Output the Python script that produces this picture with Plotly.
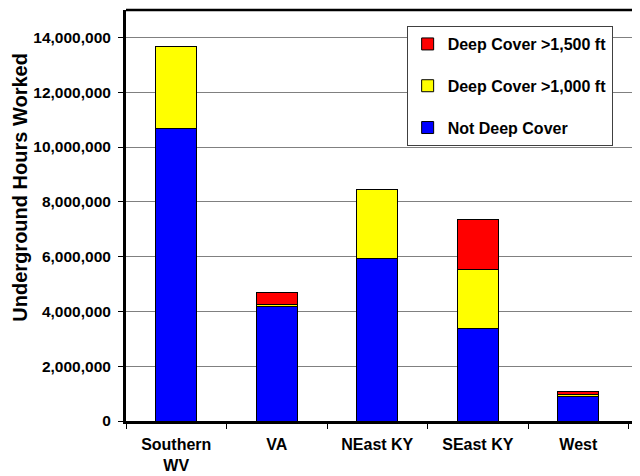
import plotly.graph_objects as go

regions = ["Southern<br>WV", "VA", "NEast KY", "SEast KY", "West"]
not_deep = [10670000, 4190000, 5930000, 3390000, 910000]
deep_1000 = [2980000, 70000, 2530000, 2130000, 50000]
deep_1500 = [0, 440000, 0, 1850000, 120000]
y_ticks = [0, 2000000, 4000000, 6000000, 8000000, 10000000, 12000000, 14000000]

FONT = "Liberation Sans, Arial, sans-serif"

fig = go.Figure()
series = [
    ("Not Deep Cover", not_deep, "#0000FF", "g1", 3),
    ("Deep Cover >1,000 ft", deep_1000, "#FFFF00", "g2", 2),
    ("Deep Cover >1,500 ft", deep_1500, "#FF0000", "g3", 1),
]
for name, vals, col, grp, rank in series:
    fig.add_trace(go.Bar(
        x=regions, y=vals, name=name, legendgroup=grp, legendrank=rank,
        marker=dict(color=col, line=dict(color="black", width=1)),
        width=0.41,
    ))

# page body has an 8px default margin, so the figure is sized/offset to compensate
fig.update_layout(
    template="none",
    width=632, height=468,
    barmode="stack",
    plot_bgcolor="white", paper_bgcolor="white",
    margin=dict(l=118, r=0, t=2, b=55),
    font=dict(family=FONT, color="black", size=15, weight="bold"),
    showlegend=True,
    legend=dict(
        x=0.546, y=0.961, xanchor="left", yanchor="top",
        bgcolor="white", bordercolor="#404040", borderwidth=1,
        font=dict(family=FONT, size=16, color="black", weight="bold"),
        traceorder="grouped", tracegroupgap=18,
    ),
    xaxis=dict(
        type="category", range=[-0.5, 4.614], automargin=False,
        tickson="boundaries", ticks="outside", ticklen=5, tickwidth=1, tickcolor="black",
        showline=True, linecolor="black", linewidth=3, showgrid=False, zeroline=False,
        tickfont=dict(family=FONT, size=16, color="black", weight="bold"),
        ticklabelstandoff=7,
    ),
    yaxis=dict(
        range=[0, 15000000], tickvals=y_ticks, tickformat=",d", automargin=False,
        ticks="outside", ticklen=5, tickwidth=1, tickcolor="black",
        showline=True, linecolor="black", linewidth=3,
        showgrid=True, gridcolor="#808080", gridwidth=1, zeroline=False,
        tickfont=dict(family=FONT, size=15.5, color="black", weight="bold"),
        ticklabelstandoff=4,
    ),
    shapes=[dict(type="line", xref="paper", yref="paper", x0=0, x1=1, y0=1, y1=1,
                 line=dict(color="black", width=2.5))],
    annotations=[dict(
        text="Underground Hours Worked", textangle=-90,
        xref="paper", yref="paper", x=-0.208, y=0.568,
        xanchor="center", yanchor="middle", showarrow=False,
        font=dict(family=FONT, size=20, color="black", weight="bold"),
    )],
)

fig.write_html("out.html")
